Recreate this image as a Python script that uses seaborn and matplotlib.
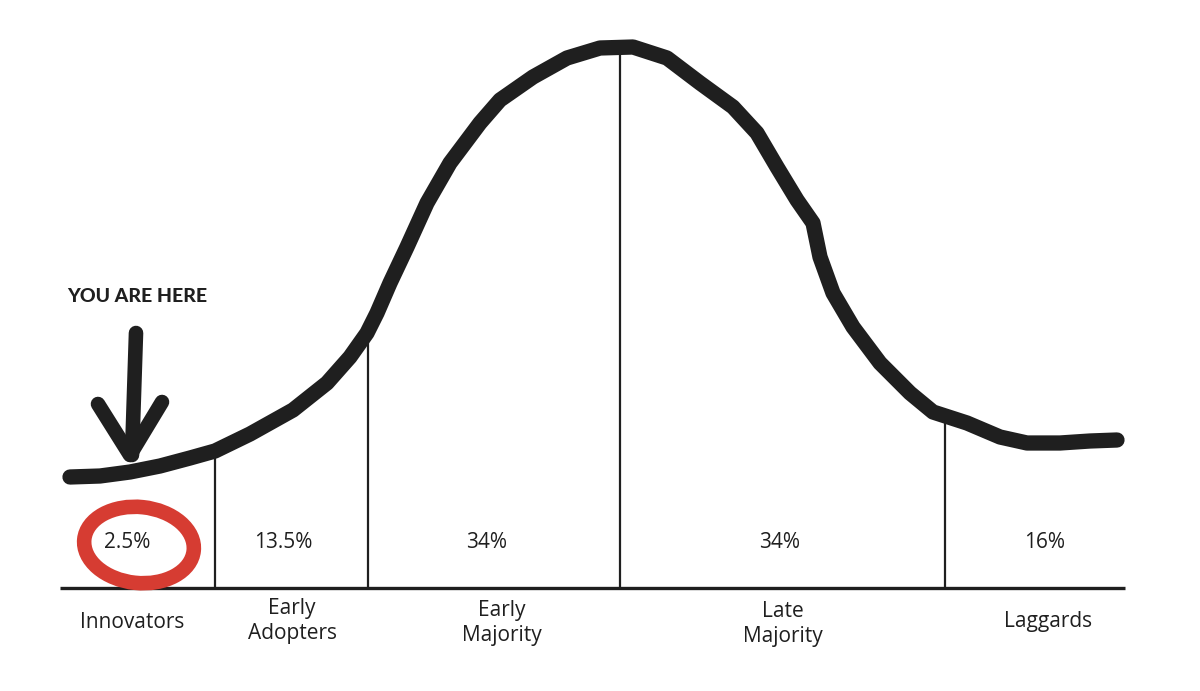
import numpy as np
import pandas as pd
import matplotlib
matplotlib.use("Agg")
import matplotlib.pyplot as plt
from matplotlib.patches import Ellipse
import seaborn as sns

# ---- data (pixel-like coordinates: x right, y down) ----
curve_x = [70, 100, 130, 160, 190, 215, 250, 293, 327, 350, 367, 377, 390, 407, 427,
           450, 480, 500, 533, 567, 600, 633, 667, 700, 733, 757, 777, 797,
           813, 820, 833, 853, 880, 910, 933, 967, 1000, 1027, 1060, 1090, 1117]
curve_y = [477, 476, 472, 466, 458, 451, 434, 410, 383, 357, 333, 313, 283, 247, 203,
           163, 123, 100, 77, 58, 48, 47, 58, 83, 107, 133, 167, 200,
           223, 257, 293, 327, 363, 393, 412, 423, 437, 443, 443, 441, 440]

divider_x = [215, 368, 620, 945]
segment_share = ["2.5%", "13.5%", "34%", "34%", "16%"]
segment_share_x = [127, 283, 487, 780, 1045]
categories = ["Innovators", "Early\nAdopters", "Early\nMajority", "Late\nMajority", "Laggards"]
category_x = [132, 292, 502, 783, 1048]
category_y = [622, 621, 623, 624, 622]

baseline_y = 588
baseline_x = [60, 1125]

sns.set_theme(style="white")
plt.rcParams["font.family"] = ["Open Sans", "DejaVu Sans"]

fig = plt.figure(figsize=(12, 6.91), dpi=100)
ax = fig.add_axes([0, 0, 1, 1])
ax.set_xlim(0, 1200)
ax.set_ylim(691, 0)
ax.axis("off")

INK = "#1f1f1f"
RED = "#d63c32"

df = pd.DataFrame({"x": curve_x, "y": curve_y})
sns.lineplot(data=df, x="x", y="y", ax=ax, color=INK, linewidth=11,
             solid_capstyle="round", solid_joinstyle="round", sort=False, zorder=4)

# baseline
ax.plot(baseline_x, [baseline_y, baseline_y], color=INK, linewidth=2.4, zorder=3,
        solid_capstyle="butt")

# dividers reaching up to the curve
for dx in divider_x:
    top = np.interp(dx, curve_x, curve_y)
    ax.plot([dx, dx], [top, baseline_y], color=INK, linewidth=1.6, zorder=3)

# shares
for s, x in zip(segment_share, segment_share_x):
    ax.text(x, 542, s, ha="center", va="center", fontsize=15, color=INK, zorder=6)

# category names
for c, x, y in zip(categories, category_x, category_y):
    ax.text(x, y, c, ha="center", va="center", fontsize=15, color=INK,
            linespacing=1.25, zorder=6)

# red circle around innovators share
ell = Ellipse((139, 545), 110, 76, angle=6, fill=False, edgecolor=RED,
              linewidth=10.5, zorder=5)
ax.add_patch(ell)

# YOU ARE HERE
ax.text(67, 296, "YOU ARE HERE", ha="left", va="center", fontsize=14,
        fontweight="black", family=["Lato", "DejaVu Sans"], color=INK, zorder=6)

# arrow
ax.plot([136, 132], [333, 455], color=INK, linewidth=10.5, solid_capstyle="round", zorder=6)
ax.plot([98, 130, 162], [404, 455, 402], color=INK, linewidth=10.5,
        solid_capstyle="round", solid_joinstyle="round", zorder=6)

fig.savefig("out.png", dpi=100, facecolor="white")
